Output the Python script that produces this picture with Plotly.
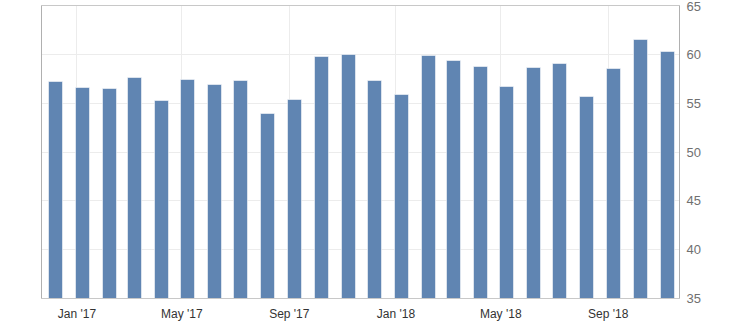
import plotly.graph_objects as go
import pandas as pd

# Monthly observations, Dec 2016 .. Nov 2018
dates = pd.date_range("2016-12-01", "2018-11-01", freq="MS") + pd.Timedelta(days=7)
values = [57.2, 56.6, 56.5, 57.6, 55.2, 57.4, 56.9, 57.3, 53.9, 55.3, 59.8, 60.0,
          57.3, 55.9, 59.9, 59.4, 58.7, 56.7, 58.6, 59.0, 55.7, 58.5, 61.5, 60.3]

y_ticks = [35, 40, 45, 50, 55, 60, 65]
x_tick_dates = ["2017-01-01", "2017-05-01", "2017-09-01", "2018-01-01", "2018-05-01", "2018-09-01"]
x_tick_labels = ["Jan '17", "May '17", "Sep '17", "Jan '18", "May '18", "Sep '18"]

fig = go.Figure()
fig.add_trace(go.Bar(
    x=dates, y=values,
    width=16 * 86400000,
    marker=dict(color="#6085b2", line=dict(color="rgba(255,255,255,0.55)", width=1)),
))

fig.update_layout(
    width=730, height=323,
    margin=dict(l=42, r=51, t=6, b=25),
    paper_bgcolor="white", plot_bgcolor="white",
    showlegend=False,
    font=dict(family="Liberation Sans, Arial, sans-serif", size=12, color="#333333"),
    bargap=0,
)
fig.update_xaxes(
    type="date",
    range=["2016-11-22", "2018-11-21"],
    tickvals=x_tick_dates, ticktext=x_tick_labels,
    showgrid=True, gridcolor="#ececec", gridwidth=1,
    showline=True, linecolor="#c8c8c8", linewidth=1, mirror=True,
    ticks="", ticklabelstandoff=5, automargin=False,
    tickfont=dict(size=12, color="#333333"),
)
fig.update_yaxes(
    side="right",
    range=[35, 65],
    tickvals=y_ticks,
    showgrid=True, gridcolor="#ececec", gridwidth=1,
    showline=True, linecolor="#b0b0b0", linewidth=1, mirror=True,
    ticks="", ticklabelstandoff=4, ticklabeloverflow="allow", automargin=False,
    tickfont=dict(size=13, color="#707070"),
    zeroline=False,
)

fig.write_html("out.html")
